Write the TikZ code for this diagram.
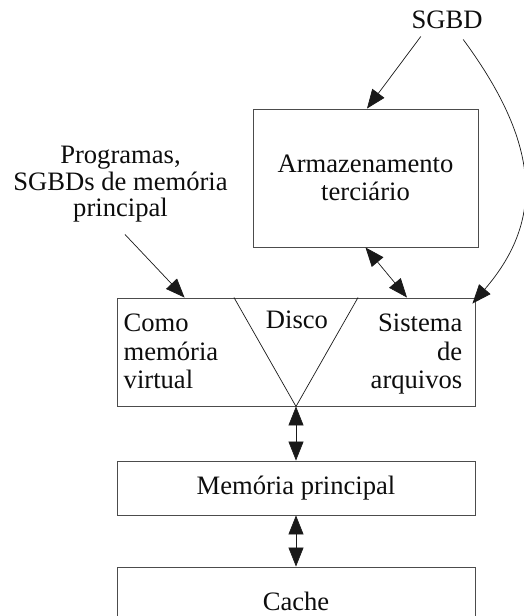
\documentclass[tikz,border=0pt]{standalone}
\usepackage{fontspec}
\setmainfont{Liberation Serif}
\usetikzlibrary{arrows.meta}
\begin{document}
\begin{tikzpicture}[x=1pt,y=-1pt,
  box/.style={draw=black!70, line width=0.9pt, inner sep=0pt, anchor=center, text=black!95, font=\fontsize{26.6}{28.5}\selectfont},
  lbl/.style={inner sep=0pt, text=black!95, font=\fontsize{26.6}{28.5}\selectfont},
  link/.style={draw=black!90, line width=0.7pt},
  tip/.style={-{Triangle[length=19pt,width=15pt]}},
  tips/.style={{Triangle[length=19pt,width=15pt]}-{Triangle[length=19pt,width=15pt]}}]
\useasboundingbox (0,0) rectangle (524,616);
\clip (0,0) rectangle (524,616);

\node[box, minimum width=225pt, minimum height=138pt, align=center] (tert) at (365.5,178) {Armazenamento\\terciário};
\node[box, minimum width=358pt, minimum height=108pt] (disk) at (296,352) {};
\node[box, minimum width=358pt, minimum height=54pt] (mem) at (296,488) {Memória principal};
\node[box, minimum width=358pt, minimum height=68pt] (cache) at (296,601) {Cache};

\node[lbl, anchor=base] (sgbd) at (447,28.5) {SGBD};
\node[lbl, anchor=north, align=center, font=\fontsize{26.6}{26.5}\selectfont] (prog) at (120.5,146) {Programas,\\SGBDs de memória\\principal};
\node[lbl, anchor=north west, align=left] (virt) at (123.5,314) {Como\\memória\\virtual};
\node[lbl, anchor=base] (disco) at (297,328.5) {Disco};
\node[lbl, anchor=north east, align=right] (fs) at (462.5,314) {Sistema\\de\\arquivos};

\draw[link] ([xshift=-62pt]disk.north) -- (disk.south) -- ([xshift=62pt]disk.north);

\draw[link,tip] ([xshift=9.5pt,yshift=-7.5pt]sgbd.south west) -- ([xshift=1.5pt]tert.north);
\draw[link,tip] ([xshift=-19.5pt,yshift=-10.5pt]sgbd.south east) .. controls +(82,111) and +(68,-79) .. ([xshift=-3pt,yshift=-6pt]disk.north east);
\draw[link,tip] ([xshift=4.5pt,yshift=-12pt]prog.south) -- ([xshift=68pt]disk.north west);
\draw[link,tips] (tert.south) -- ([xshift=111pt]disk.north);
\draw[link,tips] (disk.south) -- (mem.north);
\draw[link,tips] (mem.south) -- (cache.north);
\end{tikzpicture}
\end{document}
